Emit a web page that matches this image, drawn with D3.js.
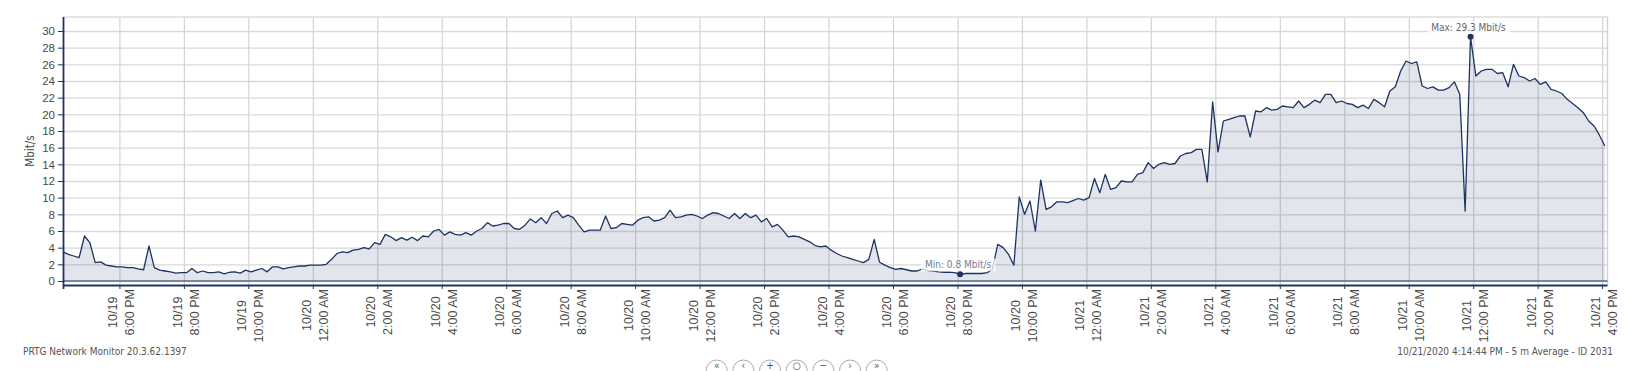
<!DOCTYPE html>
<html>
<head>
<meta charset="utf-8">
<script src="https://cdn.jsdelivr.net/npm/d3@7"></script>
<style>
  html, body { margin: 0; padding: 0; background: #fff; }
  svg { display: block; font-family: 'DejaVu Sans Condensed', 'DejaVu Sans', sans-serif; }
</style>
</head>
<body>
<svg id="chart"></svg>
<script>
// 5 m average traffic, read every 10 minutes from 10/19 4:15 PM
const startTime = new Date(2020, 9, 19, 16, 15);
const endTime = new Date(2020, 9, 21, 16, 10);
const stepMinutes = 10;

const traffic = [
  3.5, 3.2, 3.0, 2.8, 5.4, 4.6, 2.2, 2.3, 1.9, 1.8,
  1.7, 1.7, 1.6, 1.6, 1.45, 1.35, 4.2, 1.6, 1.3, 1.2,
  1.1, 0.95, 1.0, 1.0, 1.5, 1.0, 1.2, 1.0, 1.0, 1.1,
  0.85, 1.05, 1.1, 0.95, 1.3, 1.1, 1.3, 1.5, 1.1, 1.7,
  1.7, 1.45, 1.6, 1.7, 1.8, 1.8, 1.9, 1.9, 1.9, 2.0,
  2.6, 3.3, 3.5, 3.4, 3.7, 3.8, 4.0, 3.85, 4.6, 4.4,
  5.6, 5.3, 4.85, 5.2, 4.9, 5.25, 4.85, 5.4, 5.3, 6.0,
  6.2, 5.5, 5.9, 5.6, 5.5, 5.8, 5.5, 6.0, 6.3, 7.0,
  6.6, 6.7, 6.9, 6.9, 6.3, 6.2, 6.7, 7.45, 7.0, 7.6,
  6.9, 8.1, 8.4, 7.6, 7.9, 7.6, 6.7, 5.9, 6.1, 6.1,
  6.1, 7.8, 6.3, 6.4, 6.9, 6.8, 6.7, 7.3, 7.6, 7.7,
  7.2, 7.3, 7.6, 8.5, 7.6, 7.7, 7.9, 8.0, 7.8, 7.5,
  7.9, 8.2, 8.1, 7.8, 7.5, 8.1, 7.5, 8.1, 7.6, 7.9,
  7.1, 7.5, 6.5, 6.8, 6.1, 5.3, 5.4, 5.3, 5.0, 4.7,
  4.25, 4.1, 4.2, 3.7, 3.3, 3.0, 2.8, 2.6, 2.4, 2.2,
  2.6, 5.0, 2.25, 1.9, 1.6, 1.4, 1.5, 1.35, 1.2, 1.2,
  1.45, 1.25, 1.2, 1.1, 1.05, 1.05, 1.0, 0.8, 0.9, 0.9,
  0.9, 0.9, 1.0, 1.4, 4.4, 4.0, 3.2, 1.9, 10.1, 8.0,
  9.6, 6.0, 12.1, 8.6, 8.9, 9.5, 9.5, 9.4, 9.65, 9.9,
  9.7, 10.0, 12.3, 10.6, 12.8, 11.0, 11.2, 12.0, 11.9, 11.9,
  12.8, 13.0, 14.2, 13.5, 14.0, 14.2, 14.0, 14.1, 15.0, 15.3,
  15.4, 15.8, 15.8, 11.9, 21.5, 15.5, 19.2, 19.4, 19.6, 19.8,
  19.8, 17.3, 20.4, 20.3, 20.8, 20.5, 20.6, 21.0, 20.9, 20.8,
  21.6, 20.8, 21.2, 21.7, 21.4, 22.4, 22.4, 21.4, 21.6, 21.3,
  21.2, 20.8, 21.1, 20.7, 21.8, 21.4, 20.9, 22.8, 23.3, 25.2,
  26.4, 26.1, 26.3, 23.4, 23.1, 23.3, 22.9, 22.9, 23.2, 23.9,
  22.4, 8.4, 29.3, 24.6, 25.2, 25.4, 25.4, 24.9, 25.0, 23.3,
  26.0, 24.6, 24.4, 24.0, 24.3, 23.6, 23.9, 23.0, 22.8, 22.5,
  21.8, 21.3, 20.8, 20.2, 19.2, 18.6, 17.5, 16.2
];

const yTickValues = [0, 2, 4, 6, 8, 10, 12, 14, 16, 18, 20, 22, 24, 26, 28, 30];
const yLabel = 'Mbit/s';
const footerLeft = 'PRTG Network Monitor 20.3.62.1397';
const footerRight = '10/21/2020 4:14:44 PM - 5 m Average - ID 2031';
const navButtons = ['\u00ab', '\u2039', '+', '\u25cb', '\u2212', '\u203a', '\u00bb'];

const width = 1627;
const height = 371;
const margin = {top: 17, right: 19.5, bottom: 86, left: 63};
const innerW = width - margin.left - margin.right;
const innerH = height - margin.top - margin.bottom;

const navy = '#1d3461';
const textColor = '#4a4a4a';

const data = traffic.map((v, i) => ({
  date: d3.timeMinute.offset(startTime, i * stepMinutes),
  value: v
}));

const svg = d3.select('#chart')
  .attr('width', width)
  .attr('height', height);

const chart = svg.append('g')
  .attr('transform', `translate(${margin.left}, ${margin.top})`);

const x = d3.scaleTime()
  .domain([startTime, endTime])
  .range([0, innerW]);

const y = d3.scaleLinear()
  .domain([-0.48, 31.68])
  .range([innerH, 0]);

const everyTwoHours = d3.timeHour.every(2);

// grid
chart.append('g')
  .attr('class', 'grid-y')
  .call(d3.axisLeft(y).tickValues(yTickValues).tickSize(-innerW).tickFormat(''))
  .call(g => g.select('.domain').remove())
  .call(g => g.selectAll('line').attr('stroke', '#d9d9d9').attr('stroke-width', 1.4));

chart.append('g')
  .attr('class', 'grid-x')
  .attr('transform', `translate(0, ${innerH})`)
  .call(d3.axisBottom(x).ticks(everyTwoHours).tickSize(-innerH).tickFormat(''))
  .call(g => g.select('.domain').remove())
  .call(g => g.selectAll('line').attr('stroke', '#d3d3d3').attr('stroke-width', 1.2));

// frame top / right
chart.append('line')
  .attr('x1', 0).attr('x2', innerW)
  .attr('y1', 0).attr('y2', 0)
  .attr('stroke', '#dcdcdc').attr('stroke-width', 1.5);
chart.append('line')
  .attr('x1', innerW).attr('x2', innerW)
  .attr('y1', 0).attr('y2', innerH)
  .attr('stroke', '#d3d3d3').attr('stroke-width', 1.5);

// area + line
const area = d3.area()
  .x(d => x(d.date))
  .y0(y(0))
  .y1(d => y(d.value));

const line = d3.line()
  .x(d => x(d.date))
  .y(d => y(d.value));

chart.append('path')
  .datum(data)
  .attr('fill', navy)
  .attr('fill-opacity', 0.13)
  .attr('d', area);

chart.append('line')
  .attr('x1', 0).attr('x2', innerW)
  .attr('y1', y(0)).attr('y2', y(0))
  .attr('stroke', navy).attr('stroke-width', 1.2);

chart.append('path')
  .datum(data)
  .attr('fill', 'none')
  .attr('stroke', navy)
  .attr('stroke-width', 1.3)
  .attr('stroke-linejoin', 'round')
  .attr('d', line);

// axes
const yAxis = chart.append('g')
  .attr('class', 'y axis')
  .call(d3.axisLeft(y).tickValues(yTickValues).tickSize(5).tickPadding(3))
  .call(g => g.select('.domain').attr('stroke', navy).attr('stroke-width', 1.8)
    .attr('d', `M0.5,0V${innerH + 4}`));
yAxis.selectAll('.tick line').attr('stroke', navy);
yAxis.selectAll('.tick text')
  .attr('fill', textColor)
  .style('font-size', '11.5px');

const fmtDate = d3.timeFormat('%m/%d');
const fmtTime = d3.timeFormat('%-I:%M %p');

const xAxis = chart.append('g')
  .attr('class', 'x axis')
  .attr('transform', `translate(0, ${innerH})`)
  .call(d3.axisBottom(x).ticks(everyTwoHours).tickSize(4))
  .call(g => g.select('.domain').attr('stroke', navy).attr('stroke-width', 1.8)
    .attr('d', `M0,0.5H${innerW}`));
xAxis.selectAll('.tick line').attr('stroke', navy);

xAxis.selectAll('.tick').each(function (d) {
  const tick = d3.select(this);
  tick.select('text').remove();
  const label = tick.append('g')
    .attr('transform', 'translate(0, 4) rotate(-90)');
  const texts = label.selectAll('text')
    .data([fmtDate(d), fmtTime(d)])
    .join('text')
    .attr('fill', textColor)
    .attr('text-anchor', 'middle')
    .style('font-size', '12.5px')
    .attr('y', (s, i) => i === 0 ? -2.5 : 14.5)
    .text(s => s);
  const maxLen = d3.max(texts.nodes(), n => n.getComputedTextLength());
  texts.attr('x', -maxLen / 2);
});

// y label
svg.append('text')
  .attr('transform', `translate(30, ${margin.top + innerH / 2}) rotate(-90)`)
  .attr('text-anchor', 'middle')
  .attr('dy', '0.35em')
  .attr('fill', textColor)
  .style('font-size', '11.5px')
  .text(yLabel);

// min / max markers
const maxPt = d3.greatest(data, d => d.value);
const minPt = d3.least(data, d => d.value);

function marker(pt, prefix, textFill) {
  const cx = x(pt.date);
  const cy = y(pt.value);
  const g = chart.append('g');
  const bg = g.append('rect').attr('fill', '#fff').attr('fill-opacity', 0.75);
  const t = g.append('text')
    .attr('x', cx - 2)
    .attr('y', cy - 6)
    .attr('text-anchor', 'middle')
    .attr('fill', textFill)
    .style('font-size', '10px')
    .text(`${prefix}: ${pt.value.toFixed(1)} Mbit/s`);
  const bb = t.node().getBBox();
  bg.attr('x', bb.x - 4).attr('y', bb.y - 1)
    .attr('width', bb.width + 8).attr('height', bb.height + 2);
  chart.append('circle')
    .attr('cx', cx).attr('cy', cy).attr('r', 3)
    .attr('fill', navy);
}
marker(maxPt, 'Max', '#666');
marker(minPt, 'Min', '#72809a');

// footer
svg.append('text')
  .attr('x', 23).attr('y', 355)
  .attr('fill', '#555')
  .style('font-size', '10px')
  .text(footerLeft);

svg.append('text')
  .attr('x', 1613).attr('y', 355)
  .attr('text-anchor', 'end')
  .attr('fill', '#555')
  .style('font-size', '10px')
  .text(footerRight);

// navigation buttons (cut by the bottom edge, as in the page)
const nav = d3.scalePoint()
  .domain(navButtons)
  .range([716.7, 876.7]);

const btn = svg.append('g').selectAll('g')
  .data(navButtons)
  .join('g')
  .attr('transform', d => `translate(${nav(d)}, 370.5)`);
btn.append('circle')
  .attr('r', 10.5)
  .attr('fill', '#fff')
  .attr('stroke', '#a9a9a9')
  .attr('stroke-width', 1);
btn.append('text')
  .attr('text-anchor', 'middle')
  .attr('y', -1.5)
  .attr('fill', '#555')
  .style('font-size', '10px')
  .text(d => d);
</script>
</body>
</html>
